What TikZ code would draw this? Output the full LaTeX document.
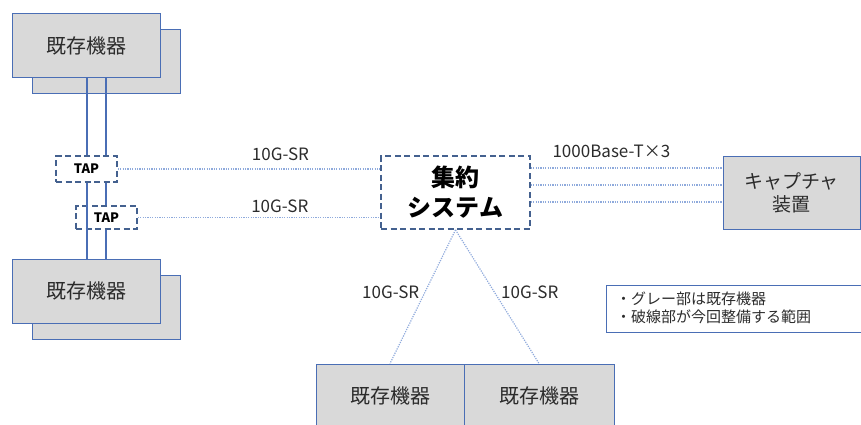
\documentclass[tikz,border=0pt]{standalone}
\usepackage{fontspec}
\setmainfont{Noto Sans CJK JP}
\definecolor{boxgray}{HTML}{D9D9D9}
\definecolor{boxblue}{HTML}{4A6EB5}
\definecolor{dashblue}{HTML}{44618F}
\definecolor{dotblue}{HTML}{8FAADC}
\definecolor{txt}{HTML}{2B2B2B}
\begin{document}
\begin{tikzpicture}[x=1pt,y=-1pt,
  gbox/.style={draw=boxblue, fill=boxgray, line width=1pt, inner sep=0pt,
    font=\fontsize{20}{24}\selectfont, text=txt, align=center},
  dbox/.style={draw=dashblue, line width=1.7pt, dash pattern=on 6pt off 3.5pt, inner sep=0pt},
  dotline/.style={draw=dotblue, line width=1.2pt, dash pattern=on 1.2pt off 1.2pt},
  link/.style={draw=boxblue, line width=1.1pt},
  lbl/.style={font=\fontsize{17}{19}\selectfont, text=txt}]
\useasboundingbox (0,0) rectangle (861,425);
% existing equipment, upper left
\node[gbox, minimum width=148pt, minimum height=64pt] (top2) at (106,62) {};
\node[gbox, minimum width=148pt, minimum height=64pt] (top1) at (86,46) {既存機器};
% existing equipment, lower left
\node[gbox, minimum width=148pt, minimum height=64pt] (bot2) at (106,307) {};
\node[gbox, minimum width=148pt, minimum height=64pt] (bot1) at (86.5,291) {既存機器};
% TAPs
\node[dbox, fill=white, minimum width=61pt, minimum height=26pt, font=\fontsize{13}{15}\selectfont\bfseries] (tap1) at (86.5,169) {TAP};
\node[dbox, minimum width=61pt, minimum height=23pt, font=\fontsize{13}{15}\selectfont\bfseries] (tap2) at (106.5,217.5) {TAP};
% aggregation system
\node[dbox, minimum width=149pt, minimum height=73pt, align=center,
  font=\fontsize{24}{30}\selectfont\bfseries] (sys) at (455.5,192.5) {集約\\システム};
% capture device
\node[gbox, minimum width=137pt, minimum height=73pt,
  font=\fontsize{19}{23}\selectfont] (cap) at (791.5,192.5) {キャプチャ\\装置};
% bottom existing equipment
\node[gbox, minimum width=148pt, minimum height=64pt] (b1) at (390,396) {既存機器};
\node[gbox, minimum width=150pt, minimum height=64pt] (b2) at (539,396) {既存機器};
% legend
\node[draw=boxblue, line width=1pt, minimum width=264pt, minimum height=47pt, inner sep=0pt] (leg) at (738,308.5) {};
\node[anchor=west, align=left, inner sep=0pt, text=txt,
  font=\fontsize{15}{18}\selectfont] (legt) at (616,308) {・グレー部は既存機器\\・破線部が今回整備する範囲};
% vertical links
\coordinate (lx) at (87,0);
\coordinate (rx) at (106,0);
\draw[link] (top1.south -| lx) -- (tap1.north -| lx);
\draw[link] (tap1.south -| lx) -- (bot1.north -| lx);
\draw[link] (top1.south -| rx) -- (tap1.north -| rx);
\draw[link] (tap1.south -| rx) -- (tap2.north -| rx);
\draw[link] (tap2.south -| rx) -- (bot1.north -| rx);
% dotted links
\draw[dotline] (tap1.east) -- (tap1.east -| sys.west)
  node[lbl, pos=0.62, yshift=15pt] {10G-SR};
\draw[dotline] (tap2.east) -- (tap2.east -| sys.west)
  node[lbl, pos=0.586, yshift=11pt] {10G-SR};
\draw[dotline] ([yshift=24.5pt]sys.east) -- ([yshift=24.5pt]cap.west)
  node[lbl, pos=0.42, yshift=17pt] {1000Base-T×3};
\draw[dotline] ([yshift=7.5pt]sys.east) -- ([yshift=7.5pt]cap.west);
\draw[dotline] ([yshift=-9.5pt]sys.east) -- ([yshift=-9.5pt]cap.west);
\draw[dotline] (sys.south) -- (b1.north)
  node[lbl, pos=0.47, xshift=-34pt] {10G-SR};
\draw[dotline] (sys.south) -- (b2.north)
  node[lbl, pos=0.47, xshift=35pt] {10G-SR};
\end{tikzpicture}
\end{document}
